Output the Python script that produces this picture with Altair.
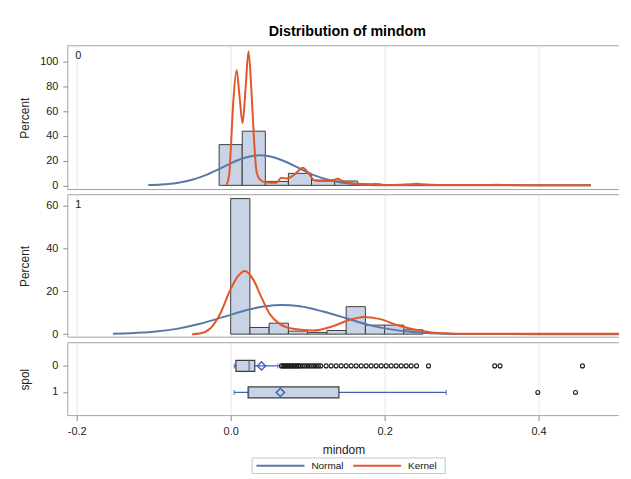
import altair as alt
import pandas as pd

# ---------------- data ----------------
series_names = ["Normal", "Kernel"]
panel_labels = ["0", "1"]
x_ticks = [-0.2, 0.0, 0.2, 0.4]

# histogram, spol = 0  (bin centres, percent)
hist0_center = [0.00, 0.03, 0.06, 0.09, 0.12, 0.15, 0.18, 0.21, 0.24]
hist0_pct = [33.0, 43.9, 3.2, 9.7, 4.3, 3.5, 0.8, 0.6, 0.8]
hist0_binwidth = 0.03

# histogram, spol = 1
hist1_center = [0.0125, 0.0375, 0.0625, 0.0875, 0.1125, 0.1375, 0.1625, 0.1875, 0.2125, 0.2375]
hist1_pct = [63.1, 3.1, 5.1, 1.4, 0.8, 1.7, 12.8, 4.2, 4.2, 2.0]
hist1_binwidth = 0.025

# normal curve, spol = 0
normal0_x = [-0.107, -0.09, -0.07, -0.05, -0.03, -0.01, 0.01, 0.025, 0.038, 0.05, 0.07,
             0.09, 0.11, 0.13, 0.15, 0.17, 0.19, 0.22, 0.26, 0.32, 0.40, 0.468]
normal0_y = [0.25, 0.69, 1.9, 4.5, 8.9, 14.7, 20.5, 23.4, 24.3, 23.5, 19.5,
             13.5, 7.9, 3.9, 1.6, 0.55, 0.16, 0.03, 0.0, 0.0, 0.0, 0.0]

# kernel curve, spol = 0
kernel0_x = [-0.0055, -0.002, 0.0, 0.0034, 0.0077, 0.0115, 0.0155, 0.0195, 0.0232, 0.027,
             0.030, 0.0335, 0.0378, 0.0443, 0.0594, 0.0658, 0.073, 0.083, 0.0937, 0.1023,
             0.109, 0.1195, 0.132, 0.139, 0.145, 0.1626, 0.184, 0.190, 0.2013, 0.22,
             0.235, 0.242, 0.252, 0.27, 0.30, 0.33, 0.347, 0.36, 0.40, 0.468]
kernel0_y = [0.3, 8.0, 27.6, 67.8, 93.3, 72.0, 50.4, 80.0, 108.6, 75.9,
             41.0, 11.5, 4.8, 2.6, 2.1, 6.1, 5.6, 8.8, 14.2, 8.8,
             4.0, 3.5, 4.0, 5.3, 3.5, 1.3, 1.0, 1.2, 0.3, 0.5,
             0.9, 1.3, 0.6, 0.3, 0.2, 0.2, 0.5, 0.2, 0.15, 0.1]

# normal curve, spol = 1
normal1_x = [-0.153, -0.13, -0.10, -0.07, -0.04, -0.01, 0.02, 0.045, 0.067, 0.09, 0.12,
             0.15, 0.18, 0.21, 0.24, 0.27, 0.30, 0.34, 0.40, 0.46, 0.5045]
normal1_y = [0.16, 0.39, 1.06, 2.45, 4.8, 7.9, 11.1, 13.0, 13.6, 12.96, 10.5,
             7.4, 4.2, 2.1, 0.88, 0.32, 0.1, 0.02, 0.0, 0.0, 0.0]

# kernel curve, spol = 1
kernel1_x = [-0.050, -0.040, -0.027, -0.0138, -0.001, 0.0098, 0.0185, 0.029, 0.040, 0.0507,
             0.0636, 0.081, 0.107, 0.132, 0.154, 0.173, 0.193, 0.218, 0.240, 0.261,
             0.285, 0.305, 0.35, 0.40, 0.45, 0.5045]
kernel1_y = [0.0, 0.3, 2.5, 9.4, 20.2, 27.1, 29.4, 25.6, 17.1, 9.4,
             4.8, 2.5, 1.7, 3.6, 6.6, 8.0, 7.1, 4.0, 2.0, 0.8,
             0.35, 0.2, 0.2, 0.2, 0.2, 0.2]

# box plot statistics
box_spol = ["0", "1"]
box_whisker_lo = [0.0047, 0.0047]
box_q1 = [0.0068, 0.0227]
box_median = [0.0240, 0.0232]
box_q3 = [0.0313, 0.1406]
box_whisker_hi = [0.0615, 0.2800]
box_mean = [0.0400, 0.0645]

outliers0 = [0.066, 0.068, 0.070, 0.072, 0.074, 0.076, 0.078, 0.080, 0.082, 0.084, 0.086,
             0.088, 0.090, 0.093, 0.096, 0.099, 0.102, 0.105, 0.108, 0.111, 0.114, 0.117,
             0.124, 0.1305, 0.137, 0.1435, 0.150, 0.1565, 0.163, 0.1695, 0.176, 0.1825,
             0.189, 0.1955, 0.202, 0.2085, 0.215, 0.2215, 0.228, 0.2345, 0.2415,
             0.257, 0.343, 0.350, 0.457]
outliers1 = [0.399, 0.448]

# ---------------- styles ----------------
FONT = "Liberation Sans"
BLUE = "#5a78a6"
ORANGE = "#e2562a"
SERIES_COLORS = [BLUE, ORANGE]
BOX_BLUE = "#4063b8"
BAR_FILL = "#c8d4e6"
BAR_STROKE = "#3c3c3c"
FRAME = "#a3a3a3"
TXT = "#222222"
W = 555
H_TOP, H_MID, H_BOX = 144.8, 143.4, 73.4

X_SCALE = alt.Scale(domain=[-0.2116, 0.5045], nice=False, zero=False)
COLOR_SCALE = alt.Scale(domain=series_names, range=SERIES_COLORS)

ONE = pd.DataFrame({"k": [0]})


def frame_layers(h):
    """Left, top and bottom frame lines of a panel (the right side is open, as in the reference)."""
    top_line = alt.Chart(ONE).mark_rule(color=FRAME, strokeWidth=1).encode(
        x=alt.value(0), x2=alt.value(W), y=alt.value(0))
    bottom_line = alt.Chart(ONE).mark_rule(color=FRAME, strokeWidth=1).encode(
        x=alt.value(0), x2=alt.value(W), y=alt.value(h))
    left_line = alt.Chart(ONE).mark_rule(color=FRAME, strokeWidth=1).encode(
        x=alt.value(0), y=alt.value(0), y2=alt.value(h))
    return [top_line, bottom_line, left_line]


def grid_axis():
    return alt.Axis(values=x_ticks, labels=False, ticks=False, domain=False, title=None,
                    grid=True, minExtent=0, maxExtent=0)


def y_axis(title, values=None):
    kw = dict(title=title, grid=False, tickSize=5, labelPadding=5, titlePadding=11,
              minExtent=26, maxExtent=26, labelFontSize=11, titleFontSize=12,
              domain=False, tickColor="#888888", labelColor=TXT, titleColor=TXT)
    if values is not None:
        kw["values"] = values
    return alt.Axis(**kw)


def hist_panel(centers, pcts, bw, nx, ny, kx, ky, label, ydom, yvals, h, title=None):
    bars = pd.DataFrame({"lo": [c - bw / 2 for c in centers],
                         "hi": [c + bw / 2 for c in centers],
                         "pct": pcts})
    yscale = alt.Scale(domain=ydom, nice=False, zero=False)
    bar_layer = alt.Chart(bars).mark_rect(fill=BAR_FILL, stroke=BAR_STROKE, strokeWidth=1).encode(
        x=alt.X("lo:Q", scale=X_SCALE, axis=grid_axis()),
        x2="hi:Q",
        y=alt.Y("pct:Q", scale=yscale, axis=y_axis("Percent", yvals)),
        y2=alt.datum(0),
    )

    def curve(xs, ys, name):
        df = pd.DataFrame({"x": xs, "y": ys, "series": name})
        return alt.Chart(df).mark_line(strokeWidth=2, interpolate="monotone").encode(
            x=alt.X("x:Q", scale=X_SCALE, axis=grid_axis()),
            y=alt.Y("y:Q", scale=yscale, axis=y_axis("Percent", yvals)),
            color=alt.Color("series:N", scale=COLOR_SCALE, legend=None),
        )

    lab = alt.Chart(pd.DataFrame({"t": [label]})).mark_text(
        align="left", baseline="middle", fontSize=11, color=TXT, font=FONT
    ).encode(text="t:N", x=alt.value(7.5), y=alt.value(10.5))

    ch = alt.layer(bar_layer, curve(nx, ny, "Normal"), curve(kx, ky, "Kernel"), lab,
                   *frame_layers(h)).properties(width=W, height=h)
    if title:
        ch = ch.properties(title=alt.TitleParams(title, anchor="middle", frame="group",
                                                 fontSize=14.4, fontWeight="bold", font=FONT,
                                                 color="black", offset=6, dx=4))
    return ch


top = hist_panel(hist0_center, hist0_pct, hist0_binwidth, normal0_x, normal0_y,
                 kernel0_x, kernel0_y, panel_labels[0], [-3.4, 113.1],
                 [0, 20, 40, 60, 80, 100], H_TOP, title="Distribution of mindom")
mid = hist_panel(hist1_center, hist1_pct, hist1_binwidth, normal1_x, normal1_y,
                 kernel1_x, kernel1_y, panel_labels[1], [-1.4, 64.9],
                 [0, 20, 40, 60], H_MID)

# ---------------- box plot panel ----------------
bdf = pd.DataFrame({"spol": box_spol, "lo": box_whisker_lo, "q1": box_q1, "med": box_median,
                    "q3": box_q3, "hi": box_whisker_hi, "mean": box_mean})
caps = pd.DataFrame({"spol": box_spol + box_spol, "v": box_whisker_lo + box_whisker_hi})
odf = pd.DataFrame({"spol": ["0"] * len(outliers0) + ["1"] * len(outliers1),
                    "v": outliers0 + outliers1})

YB = alt.Y("spol:N", scale=alt.Scale(domain=box_spol, paddingInner=0, paddingOuter=0.375),
           axis=y_axis("spol"))
X_BOX_AXIS = alt.Axis(values=x_ticks, grid=True, ticks=True, tickSize=5, labelPadding=5,
                      labelExpr="datum.value < 0 ? '-' + format(-datum.value, '.1f') : format(datum.value, '.1f')",
                      title="mindom", titlePadding=8, labelFontSize=11, titleFontSize=12,
                      domain=False, tickColor="#888888", labelColor=TXT, titleColor=TXT)


def bx(field):
    return alt.X(field, scale=X_SCALE, axis=X_BOX_AXIS)


whisker = alt.Chart(bdf).mark_rule(color=BOX_BLUE, strokeWidth=1.3).encode(
    x=bx("lo:Q"), x2="hi:Q", y=YB)
cap = alt.Chart(caps).mark_tick(color=BOX_BLUE, thickness=1.3, size=5).encode(x=bx("v:Q"), y=YB)
box = alt.Chart(bdf).mark_bar(size=11, fill=BAR_FILL, stroke=BAR_STROKE, strokeWidth=1.2).encode(
    x=bx("q1:Q"), x2="q3:Q", y=YB)
med = alt.Chart(bdf).mark_tick(color="#3f5a9a", thickness=1.5, size=11).encode(x=bx("med:Q"), y=YB)
mean = alt.Chart(bdf).mark_point(shape="diamond", filled=False, color=BOX_BLUE, size=70,
                                 strokeWidth=1.5, opacity=1).encode(x=bx("mean:Q"), y=YB)
outl = alt.Chart(odf).mark_point(shape="circle", filled=False, color="#1a1a1a", size=16,
                                 strokeWidth=1.1, opacity=1).encode(x=bx("v:Q"), y=YB)

# ---------------- legend (drawn below the x axis of the bottom panel) ----------------
LEG_BOX = (185.6, 380.0, 116.0, 131.7)
LEG_Y = 123.9
LEG_LINE_X = [190.0, 287.3]
LEG_LINE_LEN = 48.3
LEG_TEXT_GAP = 7.0

legend_layers = [
    alt.Chart(ONE).mark_rect(fill="white", stroke="#c8c8c8", strokeWidth=1).encode(
        x=alt.value(LEG_BOX[0]), x2=alt.value(LEG_BOX[1]),
        y=alt.value(LEG_BOX[2]), y2=alt.value(LEG_BOX[3]))
]
for i, name in enumerate(series_names):
    sdf = pd.DataFrame({"series": [name]})
    legend_layers.append(
        alt.Chart(sdf).mark_rule(strokeWidth=2).encode(
            color=alt.Color("series:N", scale=COLOR_SCALE, legend=None),
            x=alt.value(LEG_LINE_X[i]), x2=alt.value(LEG_LINE_X[i] + LEG_LINE_LEN),
            y=alt.value(LEG_Y)))
    legend_layers.append(
        alt.Chart(sdf).mark_text(align="left", baseline="middle", fontSize=10, font=FONT,
                                 color="#111111").encode(
            text="series:N",
            x=alt.value(LEG_LINE_X[i] + LEG_LINE_LEN + LEG_TEXT_GAP), y=alt.value(LEG_Y)))

boxpanel = alt.layer(whisker, cap, box, med, mean, outl, *frame_layers(H_BOX),
                     *legend_layers).properties(width=W, height=H_BOX)

chart = alt.vconcat(top, mid, boxpanel, spacing=5, bounds="flush").resolve_scale(
    color="shared"
).properties(
    padding={"left": 10.2, "top": 14.4, "right": 0, "bottom": 0}
).configure_view(stroke="transparent", strokeWidth=0).configure_axis(
    gridColor="#e6e6e6", gridWidth=1, labelFont=FONT, titleFont=FONT, titleFontWeight="normal"
)

chart.save("out.html", embed_options={"renderer": "svg", "actions": False})
